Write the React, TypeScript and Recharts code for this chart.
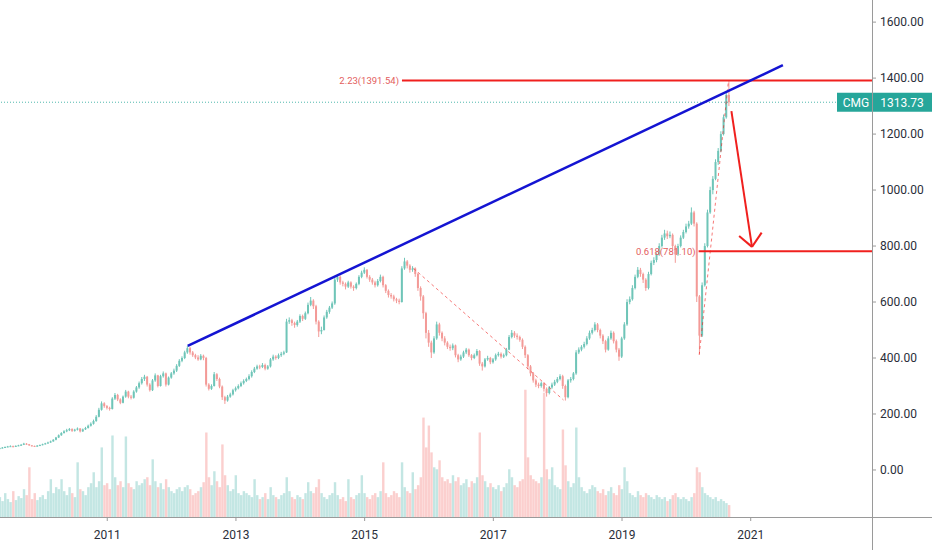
import React from 'react';
import { ComposedChart, Bar, XAxis, YAxis, ReferenceLine } from 'recharts';

// CMG, half-month candles from May 2009 to Sept 2020
const START = 2009 + 4 / 12;
const STEP = 1 / 24;
const FIRST_OPEN = 76;

const closes = [
  78, 80, 82, 84, 85, 83, 86, 88, 90, 94, 92, 88, 86, 84, 87, 89,
  92, 95, 98, 102, 108, 116, 124, 132, 138, 142, 146, 140, 144, 148, 138, 145, 150, 158, 165, 175, 190, 215, 238, 228,
  222, 218, 255, 268, 252, 240, 262, 280, 262, 258, 280, 295, 310, 325, 333, 305, 285, 320, 338, 300, 335, 345, 305, 330,
  345, 355, 372, 390, 400, 420, 435, 420, 410, 402, 395, 408, 400, 305, 290, 300, 342, 325, 298, 260, 248, 262, 270, 285,
  292, 300, 310, 318, 325, 335, 350, 362, 370, 368, 375, 362, 370, 395, 405, 400, 410, 415, 420, 530, 535, 525, 518, 530,
  550, 540, 560, 590, 605, 585, 530, 495, 500, 545, 565, 580, 595, 680, 690, 670, 665, 655, 670, 655, 650, 665, 690, 705,
  715, 690, 680, 670, 660, 675, 690, 660, 640, 625, 620, 610, 605, 600, 720, 745, 730, 715, 720, 700, 650, 620, 560, 490,
  455, 420, 470, 520, 490, 470, 455, 440, 435, 445, 410, 395, 405, 420, 430, 410, 400, 410, 425, 380, 370, 395, 400, 385,
  395, 410, 415, 405, 410, 430, 475, 490, 480, 475, 465, 440, 410, 370, 345, 320, 305, 300, 310, 290, 275, 295, 305, 315,
  325, 335, 300, 260, 320, 325, 345, 420, 430, 440, 450, 470, 490, 500, 520, 500, 480, 460, 430, 470, 490, 460, 430, 405,
  470, 520, 600, 610, 650, 690, 715, 700, 680, 650, 700, 740, 750, 770, 800, 830, 845, 835, 840, 800, 770, 800, 830, 850,
  870, 880, 920, 880, 620, 480, 660, 800, 920, 1000, 1040, 1100, 1140, 1200, 1260, 1340, 1313.73,
];

const highs = [
  80, 82, 84, 86, 88, 87, 88, 90, 93, 97, 96, 93, 89, 87, 89, 91,
  94, 97, 101, 105, 110, 118, 127, 135, 142, 147, 150, 149, 147, 152, 150, 148, 154, 162, 170, 180, 196, 222, 245, 242,
  232, 226, 260, 275, 272, 256, 266, 286, 283, 268, 285, 300, 316, 332, 340, 336, 310, 325, 345, 340, 340, 352, 348, 334,
  350, 362, 378, 396, 406, 426, 443, 440, 425, 415, 410, 414, 412, 404, 310, 306, 350, 346, 330, 302, 265, 268, 276, 290,
  298, 306, 316, 324, 330, 342, 356, 368, 376, 376, 382, 380, 375, 400, 412, 410, 416, 422, 426, 540, 545, 540, 530, 536,
  556, 555, 566, 598, 618, 610, 590, 535, 512, 552, 572, 586, 602, 688, 698, 695, 676, 670, 676, 674, 660, 670, 696, 712,
  724, 718, 696, 686, 676, 682, 698, 694, 664, 645, 632, 626, 615, 612, 728, 758, 750, 735, 728, 724, 705, 656, 625, 565,
  500, 462, 478, 530, 526, 495, 478, 460, 448, 452, 448, 415, 412, 426, 436, 434, 414, 416, 432, 428, 386, 400, 408, 404,
  400, 416, 422, 420, 416, 436, 482, 500, 496, 488, 480, 470, 445, 414, 375, 350, 326, 312, 316, 314, 295, 300, 312, 322,
  332, 342, 340, 305, 325, 332, 350, 428, 438, 446, 458, 478, 498, 508, 528, 525, 505, 485, 465, 478, 498, 495, 466, 436,
  476, 528, 610, 620, 660, 698, 725, 722, 705, 685, 708, 748, 760, 778, 810, 840, 858, 855, 852, 845, 805, 808, 838, 858,
  880, 890, 938, 926, 885, 625, 670, 810, 930, 1012, 1050, 1110, 1150, 1210, 1270, 1350, 1391.54,
];

const lows = [
  75, 77, 79, 81, 83, 81, 82, 85, 87, 89, 90, 86, 84, 82, 83, 86,
  88, 91, 94, 97, 101, 106, 114, 122, 130, 135, 139, 136, 137, 141, 134, 136, 143, 148, 155, 162, 172, 188, 212, 222,
  216, 212, 216, 250, 246, 235, 238, 258, 256, 252, 255, 276, 290, 305, 318, 298, 280, 282, 315, 295, 298, 330, 298, 302,
  326, 340, 350, 368, 385, 396, 415, 412, 404, 396, 390, 392, 392, 298, 284, 286, 298, 318, 292, 250, 236, 244, 258, 266,
  280, 288, 296, 305, 314, 320, 330, 346, 358, 360, 364, 356, 358, 366, 390, 394, 396, 404, 410, 418, 522, 515, 508, 512,
  525, 532, 536, 556, 585, 575, 520, 475, 485, 498, 540, 558, 575, 590, 672, 662, 656, 645, 650, 648, 640, 645, 660, 685,
  700, 684, 672, 662, 652, 655, 670, 652, 632, 616, 612, 602, 596, 592, 598, 715, 720, 705, 708, 690, 640, 605, 540, 470,
  440, 400, 415, 465, 480, 460, 445, 432, 426, 428, 402, 385, 390, 400, 414, 404, 392, 396, 406, 372, 355, 366, 390, 378,
  380, 390, 405, 398, 400, 406, 428, 470, 472, 466, 458, 432, 400, 360, 335, 312, 296, 292, 294, 280, 262, 270, 290, 300,
  310, 320, 290, 248, 256, 312, 320, 340, 414, 424, 434, 445, 465, 484, 495, 492, 470, 450, 420, 426, 465, 452, 420, 390,
  400, 465, 515, 592, 605, 645, 685, 690, 668, 640, 645, 695, 732, 742, 765, 795, 822, 825, 828, 790, 740, 765, 795, 825,
  845, 862, 875, 870, 600, 415, 475, 655, 795, 915, 985, 1035, 1090, 1135, 1195, 1255, 1300,
];

const volumes = [
  20, 16, 24, 18, 15, 26, 17, 21, 19, 28, 22, 50, 18, 24, 17, 20,
  22, 18, 26, 38, 24, 30, 28, 38, 26, 22, 30, 24, 20, 55, 28, 26, 22, 30, 34, 45, 30, 36, 70, 32,
  34, 28, 82, 40, 32, 36, 30, 81, 34, 30, 28, 36, 32, 34, 38, 40, 32, 58, 36, 30, 34, 28, 38, 30,
  26, 24, 28, 30, 26, 30, 32, 28, 22, 24, 26, 30, 35, 85, 40, 32, 46, 36, 30, 73, 42, 32, 26, 28,
  42, 24, 22, 26, 24, 22, 20, 38, 22, 18, 20, 24, 18, 30, 22, 20, 18, 22, 24, 40, 26, 20, 18, 22,
  20, 18, 24, 35, 26, 24, 30, 38, 24, 20, 18, 22, 24, 35, 22, 18, 20, 16, 38, 20, 18, 22, 24, 42,
  24, 20, 18, 22, 24, 20, 26, 55, 24, 20, 22, 26, 24, 20, 55, 30, 26, 24, 45, 28, 32, 40, 100, 70,
  92, 65, 50, 48, 57, 40, 36, 38, 34, 42, 36, 40, 32, 34, 38, 30, 36, 34, 40, 85, 42, 36, 30, 34,
  30, 28, 32, 26, 30, 34, 48, 40, 32, 30, 36, 38, 128, 60, 42, 38, 36, 34, 40, 125, 48, 38, 50, 32,
  30, 28, 88, 52, 36, 30, 34, 90, 40, 30, 26, 24, 28, 32, 30, 26, 24, 28, 22, 26, 30, 24, 22, 32,
  28, 50, 36, 24, 22, 20, 26, 22, 20, 24, 22, 20, 18, 22, 20, 18, 20, 16, 18, 22, 24, 20, 18, 20,
  18, 16, 20, 24, 50, 45, 30, 24, 22, 20, 18, 20, 16, 18, 16, 14, 12,
];

const yearTicks = [2011, 2013, 2015, 2017, 2019, 2021];
const priceTicks = [0, 200, 400, 600, 800, 1000, 1200, 1400, 1600];
const LAST = 1313.73;

// drawings (date as decimal year, price)
const trendLine = [{ x: 2012.25, y: 443 }, { x: 2021.5, y: 1446 }];
const fibTop = { ratio: '2.23', price: 1391.54, from: 2015.58 };
const fibMid = { ratio: '0.618', price: 781.1, from: 2020.19 };
const dashA = [{ x: 2015.76, y: 720 }, { x: 2018.09, y: 250 }];
const dashB = [{ x: 2020.2, y: 411 }, { x: 2020.65, y: 1381 }];
const arrowShaft = [{ x: 2020.7, y: 1282 }, { x: 2021.02, y: 797 }];
const arrowLeft = [{ x: 2020.82, y: 836 }, { x: 2021.02, y: 797 }];
const arrowRight = [{ x: 2021.17, y: 848 }, { x: 2021.02, y: 797 }];

const X_DOMAIN: [number, number] = [2009.333, 2022.885];
const Y_DOMAIN: [number, number] = [-168, 1679];

const UP = '#6fc5b8';
const DOWN = '#f39a97';
const RED = '#f0201e';
const FONT = 'Roboto, "DejaVu Sans", sans-serif';

const data = closes.map((c, i) => ({
  t: START + i * STEP,
  open: i === 0 ? FIRST_OPEN : closes[i - 1],
  high: highs[i],
  low: lows[i],
  close: c,
  vol: volumes[i],
}));

const Candle = (props: any) => {
  const { x, y, width, height, payload } = props;
  if (!payload) return null;
  const { open, close, high, low } = payload;
  const top = Math.min(y, y + height);
  const h = Math.abs(height);
  const k = high === low ? 0 : h / (high - low);
  const color = close >= open ? UP : DOWN;
  const bodyTop = top + (high - Math.max(open, close)) * k;
  const bodyH = Math.max(1, Math.abs(close - open) * k);
  const cx = x + width / 2;
  return (
    <g>
      <line x1={cx} x2={cx} y1={top} y2={top + h} stroke={color} strokeWidth={1} />
      <rect x={x} y={bodyTop} width={width} height={bodyH} fill={color} />
    </g>
  );
};

const VolBar = (props: any) => {
  const { x, y, width, height, payload } = props;
  if (!payload) return null;
  const fill = payload.close >= payload.open ? 'rgba(38,166,154,0.28)' : 'rgba(239,83,80,0.28)';
  return <rect x={x} y={y} width={width} height={height} fill={fill} />;
};

const PriceTag = (props: any) => {
  const vb = props.viewBox;
  if (!vb) return null;
  const x = vb.x + vb.width;
  const y = vb.y;
  return (
    <g fontFamily={FONT} fontSize={12}>
      <rect x={x - 35} y={y - 9.5} width={95} height={19} fill="#26a69a" />
      <text x={x - 16} y={y} dy="0.36em" textAnchor="middle" fill="#fff">CMG</text>
      <text x={x + 30} y={y} dy="0.36em" textAnchor="middle" fill="#fff">{LAST.toFixed(2)}</text>
    </g>
  );
};

const fibLabel = (f: { ratio: string; price: number }) => ({
  value: `${f.ratio}(${f.price.toFixed(2)})`,
  position: 'left' as const,
  offset: 3,
  fill: '#e35d5d',
  fontSize: 9.5,
  fontFamily: FONT,
});

const W = 932;
const H = 550;
const margin = { top: 0, right: 0, bottom: 0, left: 0 };

export default function App() {
  return (
    <div style={{ position: 'absolute', left: 0, top: 0, width: W, height: H, background: '#fff', overflow: 'hidden' }}>
      <div style={{ position: 'absolute', left: 0, top: 0 }}>
        <ComposedChart width={W} height={H} data={data} margin={{ top: 0, right: 60, bottom: 33, left: 0 }}>
          <XAxis dataKey="t" type="number" domain={X_DOMAIN} allowDataOverflow hide />
          <YAxis yAxisId="vol" domain={[0, 520]} allowDataOverflow hide />
          <Bar yAxisId="vol" dataKey="vol" barSize={3} shape={<VolBar />} isAnimationActive={false} />
        </ComposedChart>
      </div>
      <div style={{ position: 'absolute', left: 0, top: 0 }}>
        <ComposedChart width={W} height={H} data={data} margin={margin}>
          <XAxis
            dataKey="t"
            type="number"
            domain={X_DOMAIN}
            allowDataOverflow
            ticks={yearTicks}
            tickFormatter={(v: number) => String(Math.round(v))}
            height={33}
            axisLine={false}
            tickSize={4}
            tickMargin={9}
            tickLine={{ stroke: '#9a9a9a' }}
            tick={{ fill: '#2a2e39', fontSize: 12, fontFamily: FONT }}
          />
          <YAxis
            orientation="right"
            width={60}
            domain={Y_DOMAIN}
            allowDataOverflow
            ticks={priceTicks}
            tickFormatter={(v: number) => v.toFixed(2)}
            axisLine={false}
            tickSize={4}
            tickMargin={4}
            tickLine={{ stroke: '#9a9a9a' }}
            tick={{ fill: '#2a2e39', fontSize: 12, fontFamily: FONT }}
          />
          <ReferenceLine y={LAST} stroke="#26a69a" strokeDasharray="1 2" strokeOpacity={0.8} label={<PriceTag />} />
          <Bar dataKey={(d: any) => [d.low, d.high]} barSize={2} shape={<Candle />} isAnimationActive={false} />
          <ReferenceLine segment={dashA} stroke={RED} strokeOpacity={0.6} strokeDasharray="3 3" />
          <ReferenceLine segment={dashB} stroke={RED} strokeOpacity={0.6} strokeDasharray="3 3" />
          <ReferenceLine
            segment={[{ x: fibTop.from, y: fibTop.price }, { x: X_DOMAIN[1], y: fibTop.price }]}
            stroke={RED}
            strokeWidth={2}
            label={fibLabel(fibTop)}
          />
          <ReferenceLine
            segment={[{ x: fibMid.from, y: fibMid.price }, { x: X_DOMAIN[1], y: fibMid.price }]}
            stroke={RED}
            strokeWidth={2}
            label={fibLabel(fibMid)}
          />
          <ReferenceLine segment={trendLine} stroke="#1414d2" strokeWidth={2.5} ifOverflow="visible" />
          <ReferenceLine segment={arrowShaft} stroke={RED} strokeWidth={2} ifOverflow="visible" />
          <ReferenceLine segment={arrowLeft} stroke={RED} strokeWidth={2} ifOverflow="visible" />
          <ReferenceLine segment={arrowRight} stroke={RED} strokeWidth={2} ifOverflow="visible" />
        </ComposedChart>
      </div>
      <div style={{ position: 'absolute', left: 0, top: 517, width: W, height: 1, background: '#9a9a9a' }} />
      <div style={{ position: 'absolute', left: 872, top: 0, width: 1, height: H, background: '#9a9a9a' }} />
    </div>
  );
}
